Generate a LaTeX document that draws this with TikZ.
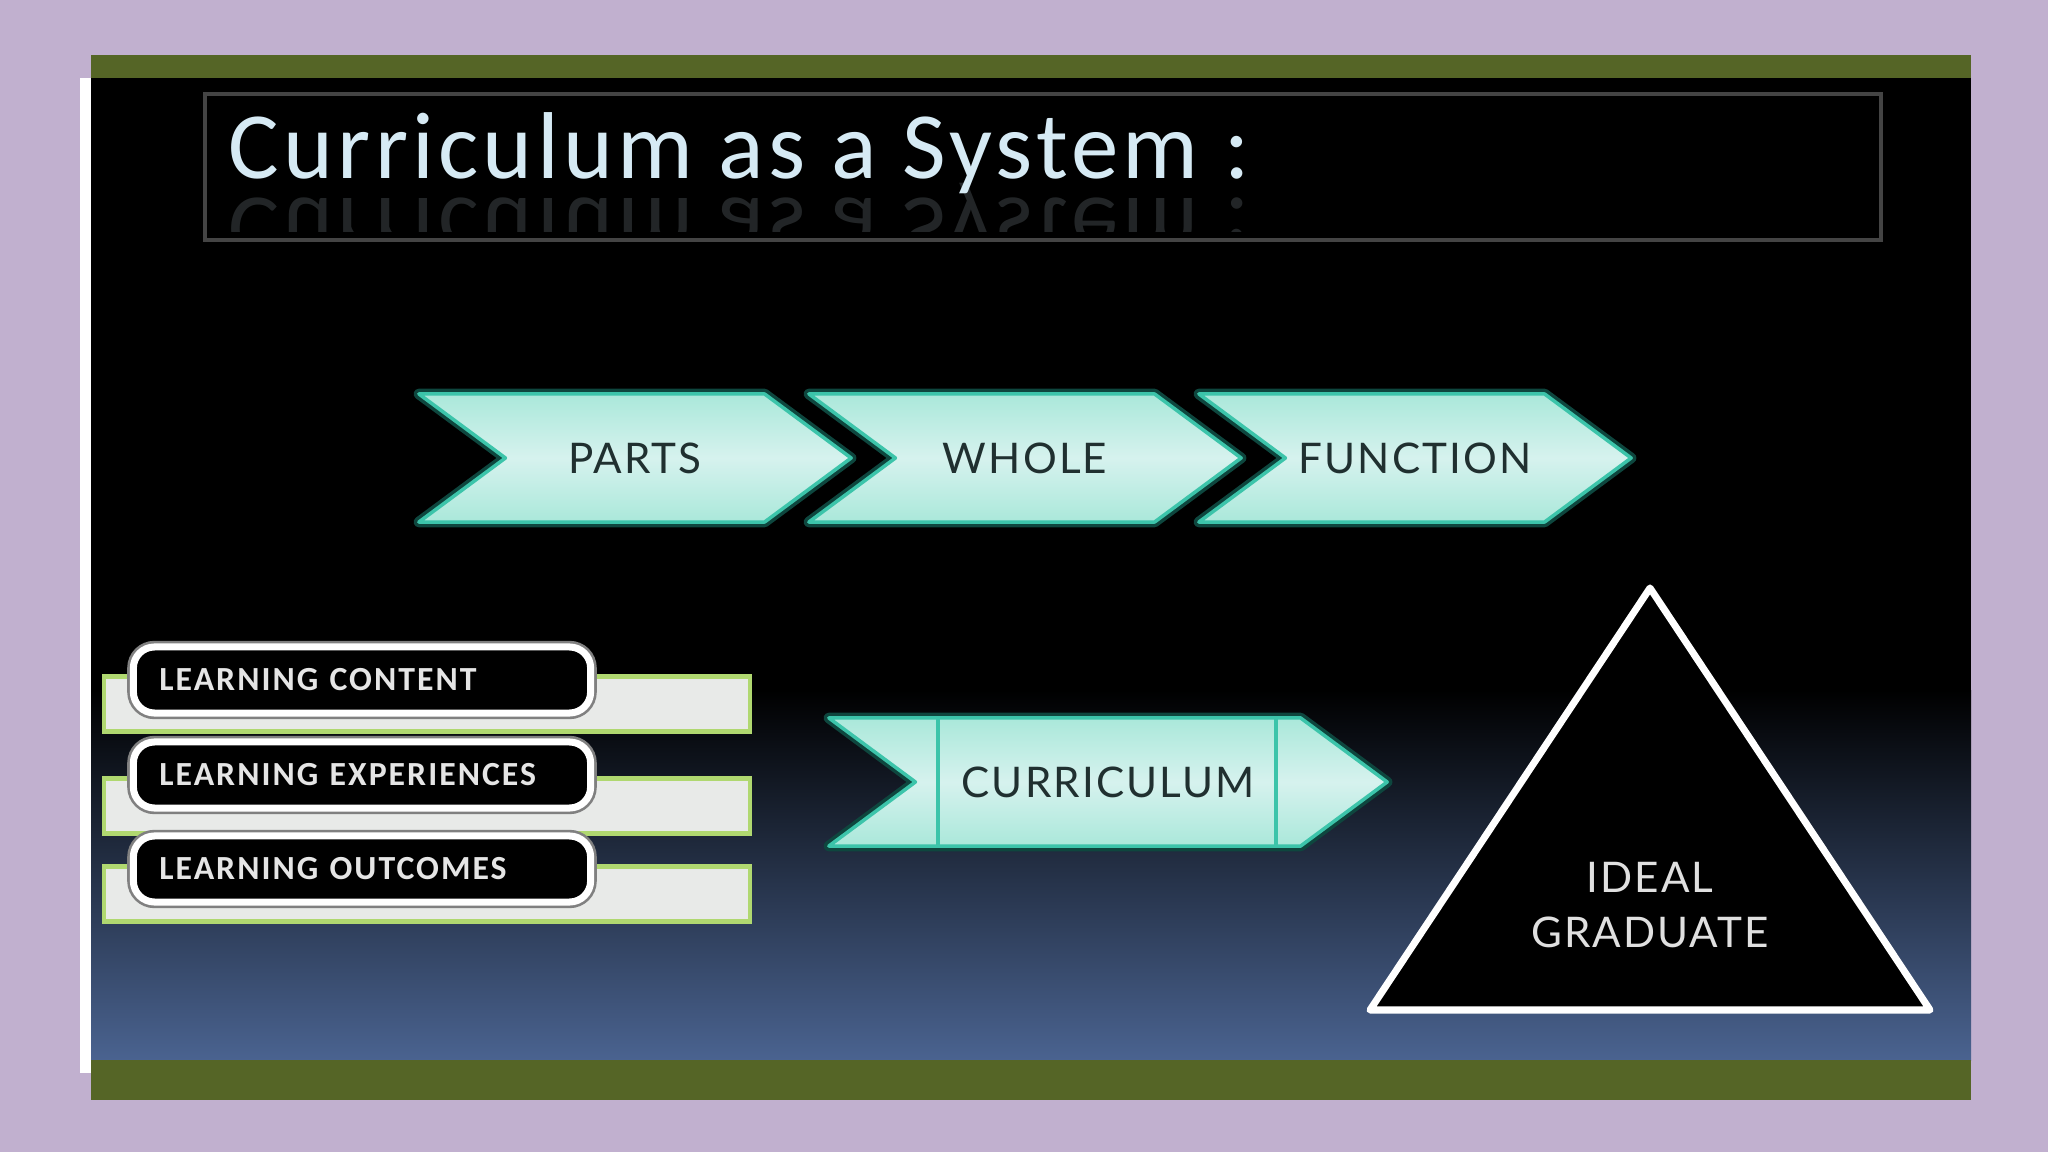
\documentclass[tikz,border=0pt]{standalone}
\usepackage{graphicx}
\usepackage{fontspec}
\usepackage{tikz}
\usetikzlibrary{shapes}
\usetikzlibrary{calc,backgrounds}
\newfontfamily\titlefont[LetterSpace=4.5]{Carlito}
\newfontfamily\boxfont[LetterSpace=6]{Carlito}
\newfontfamily\labelfont[LetterSpace=5]{Lato}
\definecolor{lavender}{RGB}{193,176,207}
\definecolor{bargreen}{RGB}{85,101,38}
\definecolor{slideblue}{RGB}{74,99,144}
\definecolor{titlegray}{RGB}{68,68,68}
\definecolor{titletext}{RGB}{214,234,244}
\definecolor{chevedge}{RGB}{60,196,170}
\definecolor{chevglow}{RGB}{14,70,62}
\definecolor{chevtop}{RGB}{170,232,218}
\definecolor{chevmid}{RGB}{214,242,238}
\definecolor{chevtext}{RGB}{32,48,48}
\definecolor{learnedge}{RGB}{176,216,112}
\definecolor{learnfill}{RGB}{232,234,232}
\tikzstyle{Chevron}=[shape=signal,signal from=west,signal to=east,signal pointer angle=73,minimum width=4.32cm,minimum height=1.28cm,draw=chevedge,line width=1pt,line join=round,top color=chevtop,bottom color=chevtop,middle color=chevmid,text=chevtext,font=\labelfont\fontsize{12}{14}\selectfont,preaction={draw=chevglow,line width=3pt,line join=round}]
\tikzstyle{LearnBar}=[rectangle,draw=learnedge,line width=1.2pt,fill=learnfill,minimum width=6.46cm,minimum height=0.55cm,inner sep=0pt]
\tikzstyle{LearnBox}=[rectangle,rounded corners=6pt,draw=white,line width=2pt,fill=black,text width=4.05cm,inner xsep=0.26cm,inner ysep=0pt,minimum height=0.66cm,align=left,text=white!90!black,font=\boxfont\bfseries\fontsize{9.6}{11}\selectfont,preaction={draw=gray,line width=3.5pt}]
\begin{document}
\begin{tikzpicture}[x=0.01cm,y=-0.01cm]
\useasboundingbox (0,0) rectangle (2048,1152);
\fill[lavender] (0,0) rectangle (2048,1152);

% slide
\fill[white] (80,78) rectangle (92,1073);
\fill[black] (91,55) rectangle (1971,1100);
\shade[top color=black,bottom color=slideblue] (91,690) rectangle (1971,1060);
\fill[bargreen] (91,55) rectangle (1971,78);
\fill[bargreen] (91,1060) rectangle (1971,1100);

% title
\draw[titlegray,line width=1pt] (205,94) rectangle (1881,240);
\node[anchor=base west,inner sep=0pt,text=titletext,font=\titlefont\fontsize{27}{32}\selectfont] (TITLE) at (228,179) {Curriculum as a System :};
\begin{scope}
\clip (205,183) rectangle (1881,232);
\node[anchor=north west,inner sep=0pt,text=titletext,opacity=0.16,font=\titlefont\fontsize{27}{32}\selectfont] (TREF) at (228,183) {\scalebox{1}[-1]{Curriculum as a System :}};
\end{scope}

% parts - whole - function
\node[Chevron] (PARTS) at (635,458) {PARTS};
\node[Chevron] (WHOLE) at (1025,458) {WHOLE};
\node[Chevron] (FUNC) at (1415,458) {FUNCTION};

% learning
\node[LearnBar] (BAR1) at (427,704) {};
\node[LearnBar] (BAR2) at (427,806) {};
\node[LearnBar] (BAR3) at (427,894) {};
\node[LearnBox] (CONTENT) at (362,680) {LEARNING CONTENT};
\node[LearnBox] (EXPER) at (362,775) {LEARNING EXPERIENCES};
\node[LearnBox] (OUTCOME) at (362,869) {LEARNING OUTCOMES};

% curriculum
\node[Chevron,minimum width=5.58cm] (CURR) at (1108,782) {CURRICULUM};
\draw[chevedge,line width=1.2pt] ([xshift=-1.7cm]CURR.north) -- ([xshift=-1.7cm]CURR.south);
\draw[chevedge,line width=1.2pt] ([xshift=1.68cm]CURR.north) -- ([xshift=1.68cm]CURR.south);

% ideal graduate
\coordinate (TOP) at (1650,588);
\coordinate (BL) at (1370,1010);
\coordinate (BR) at (1930,1010);
\draw[white,line width=2pt,fill=black,line join=round] (TOP) -- (BL) -- (BR) -- cycle;
\node[align=center,text=white!88!black,font=\labelfont\fontsize{12}{15.6}\selectfont] (GRAD) at (1650,905) {IDEAL\\GRADUATE};

\end{tikzpicture}
\end{document}
